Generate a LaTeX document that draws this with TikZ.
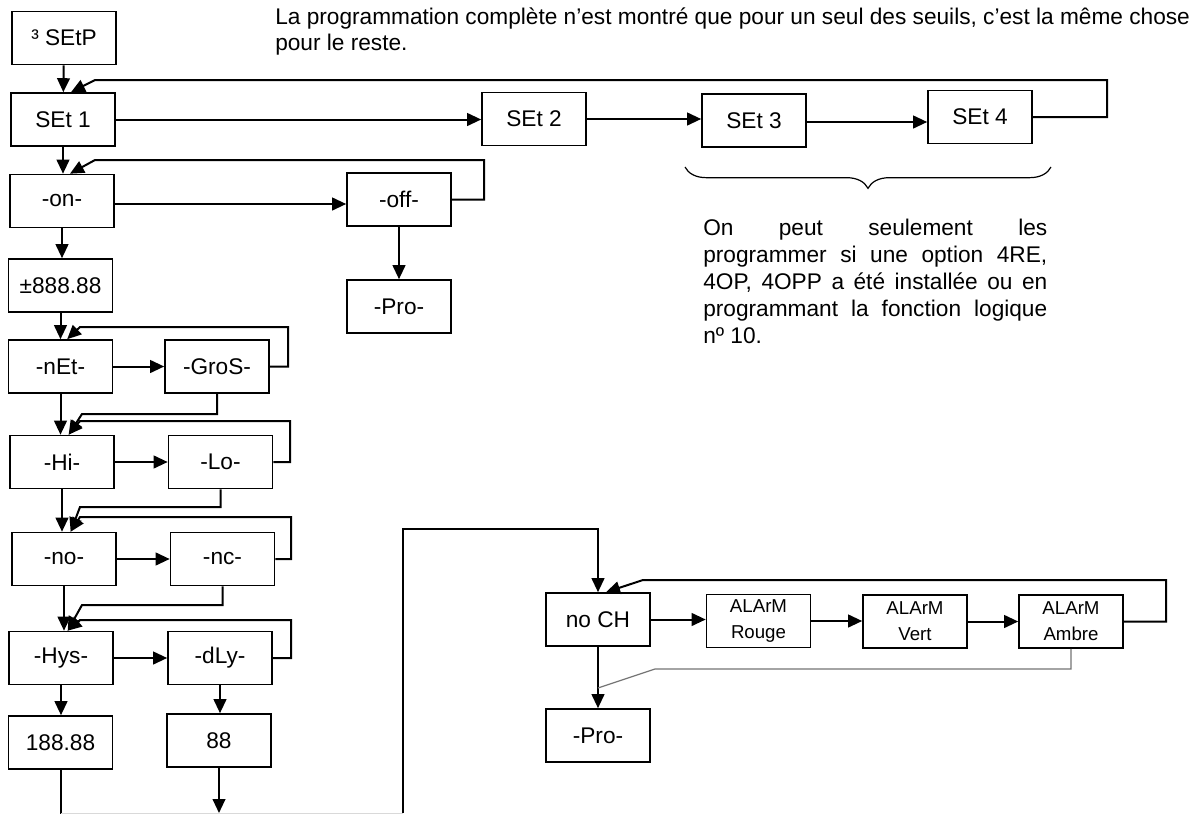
\documentclass[tikz,border=0pt]{standalone}
\usepackage{fontspec}
\setmainfont{Liberation Sans}
\usetikzlibrary{arrows.meta,decorations.pathreplacing,calc}
\hbadness=10000
\begin{document}
\begin{tikzpicture}[x=0.75pt,y=-0.75pt,
  box/.style={draw, line width=1.2pt, minimum width=78pt, minimum height=39.75pt, inner sep=0pt, align=center, font=\fontsize{17}{20}\selectfont},
  abox/.style={box, font=\fontsize{14}{19.5}\selectfont},
  arr/.style={line width=1.5pt, -{Triangle[length=10.5pt,width=9.5pt]}},
  ln/.style={line width=1.5pt},
  faint/.style={line width=0.6pt, black!15},
  thin/.style={line width=0.9pt, black!55}]
\useasboundingbox (0,0) rectangle (1199,814);

% title
\node[anchor=north west, align=left, inner sep=0pt, font=\fontsize{17}{19.5}\selectfont] (title) at (275,8)
 {La programmation complète n'est montré que pour un seul des seuils, c'est la même chose\\pour le reste.};

% boxes
\node[box] (setp) at (64,38) {³ SEtP};
\node[box] (set1) at (63,119.5) {SEt 1};
\node[box] (set2) at (534,119) {SEt 2};
\node[box] (set3) at (754,120.5) {SEt 3};
\node[box] (set4) at (980,117) {SEt 4};
\node[box] (on) at (62,201) {-on-};
\node[box] (off) at (399,199.5) {-off-};
\node[box] (pro1) at (399,306.5) {-Pro-};
\node[box] (pm) at (60.5,285.5) {±888.88};
\node[box] (net) at (60.5,366.5) {-nEt-};
\node[box] (gros) at (217,366.5) {-GroS-};
\node[box] (hi) at (62,462) {-Hi-};
\node[box] (lo) at (220.5,462) {-Lo-};
\node[box] (no) at (64,559) {-no-};
\node[box] (nc) at (222.5,559) {-nc-};
\node[box] (hys) at (61,658) {-Hys-};
\node[box] (dly) at (220,658) {-dLy-};
\node[box] (v188) at (60.5,742.5) {188.88};
\node[box] (v88) at (219,740.5) {88};
\node[box] (nch) at (598,619.5) {no CH};
\node[abox] (rouge) at (758.5,621) {ALArM\\Rouge};
\node[abox] (vert) at (915,621.5) {ALArM\\Vert};
\node[abox] (ambre) at (1071,621.5) {ALArM\\Ambre};
\node[box] (pro2) at (598,735.5) {-Pro-};

% main chain
\draw[arr] (setp) -- (set1);
\draw[arr] (set1.east) -- (set2.west |- set1.east);
\draw[arr] (set2.east) -- (set3.west |- set2.east);
\draw[arr] ($(set3.east)+(0,1.5)$) -- (set4.west |- {$(set3.east)+(0,1.5)$});
\draw[arr] (set4.east) -- (1107,117) -- (1107,80) -- (95,80) -- ([xshift=6pt]set1.north);
\draw[arr] (set1.south) -- (set1.south |- on.north);
\draw[arr] ($(on.east)+(0,3)$) -- (off.west |- {$(on.east)+(0,3)$});
\draw[arr] (off.east) -- (484,199.5) -- (484,160) -- (95,160) -- ([xshift=6pt]on.north);
\draw[arr] (on.south) -- (on.south |- pm.north);
\draw[arr] (off.south) -- (pro1.north);
\draw[arr] (pm.south) -- (net.north);
\draw[arr] (net.east) -- (gros.west);
\draw[arr] (gros.east) -- (288,366.5) -- (288,327) -- (80,327) -- ([xshift=5pt]net.north);
\draw[arr] (net.south) -- (net.south |- hi.north);
\draw[arr] (gros.south) -- (217,414) -- (82,414) -- ([xshift=5pt]hi.north);
\draw[arr] (hi.east) -- (lo.west);
\draw[arr] (lo.east) -- (290,462) -- (290,421) -- (80,421) -- ([xshift=5pt]hi.north);
\draw[arr] (hi.south) -- (hi.south |- no.north);
\draw[arr] (lo.south) -- (220.5,507) -- (80,507) -- ([xshift=5pt]no.north);
\draw[arr] (no.east) -- (nc.west);
\draw[arr] (nc.east) -- (291,559) -- (291,517) -- (80,517) -- ([xshift=5pt]no.north);
\draw[arr] (no.south) -- (no.south |- hys.north);
\draw[arr] (nc.south) -- (222.5,605) -- (82,605) -- ([xshift=5pt]hys.north);
\draw[arr] (hys.east) -- (dly.west);
\draw[arr] (dly.east) -- (291,658) -- (291,620) -- (80,620) -- ([xshift=5pt]hys.north);
\draw[arr] (hys.south) -- (hys.south |- v188.north);
\draw[arr] (dly.south) -- (dly.south |- v88.north);

% bottom links
\coordinate (b1) at (60.5,814);
\coordinate (b2) at (219,813);
\coordinate (b3) at (403,813);
\draw[ln] (v188.south) -- (b1);
\draw[arr] (v88.south) -- (b2);
\draw[faint] (60.5,813) -- (b3);
\draw[arr] (b3) -- (403,529) -- (598,529) -- (nch.north);

% alarm chain
\draw[arr] (nch.east) -- (rouge.west |- nch.east);
\draw[arr] (rouge.east) -- (vert.west |- rouge.east);
\draw[arr] (vert.east) -- (ambre.west |- vert.east);
\draw[arr] (ambre.east) -- (1166,621.5) -- (1166,580) -- (643,580) -- ([xshift=6pt]nch.north);
\draw[arr] (nch.south) -- (pro2.north);
\draw[thin] (ambre.south) -- (1071,669) -- (655,669) -- (598,688);

% brace and note
\draw[decorate, decoration={brace, mirror, amplitude=16pt}, line width=0.9pt] (685,167) -- (1051,167);
\node[anchor=north west, inner sep=0pt, text width=258pt, align=justify, font=\fontsize{17}{20.25}\selectfont] (note) at (703,219)
 {On peut seulement les\linebreak programmer si une option 4RE,\linebreak 4OP, 4OPP a été installée ou en\linebreak programmant la fonction logique\linebreak nº 10.};
\end{tikzpicture}
\end{document}
